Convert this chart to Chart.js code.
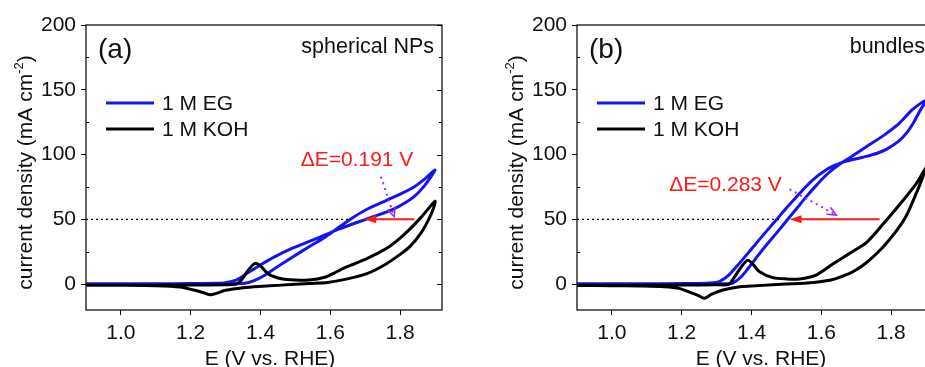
<!DOCTYPE html>
<html lang="en">
<head>
<meta charset="UTF-8" />
<title>CV curves - spherical NPs vs bundles</title>
<script src="https://cdn.jsdelivr.net/npm/chart.js"></script>
<style>
  html, body { margin: 0; padding: 0; background: #fff; overflow: hidden; width: 925px; height: 367px; }
  .panel { position: absolute; top: 0; width: 470px; height: 367px; }
  #wrapA { left: 0; }
  #wrapB { left: 491px; }
</style>
</head>
<body>
<div class="panel" id="wrapA"><canvas id="chartA" width="470" height="367"></canvas></div>
<div class="panel" id="wrapB"><canvas id="chartB" width="470" height="367"></canvas></div>
<script>
// ---- data: [E (V vs RHE), j (mA cm-2)] ----
const egSpherical = [
  [0.90,0.2],[1.00,0.2],[1.10,0.3],[1.20,0.4],[1.27,0.6],[1.30,1.0],[1.33,3],[1.36,8],[1.395,14],
  [1.44,21],[1.49,27.5],[1.54,33],[1.59,38.5],[1.62,42],[1.66,46],[1.70,49.8],[1.76,55.5],
  [1.80,60.5],[1.84,67.5],[1.87,76],[1.90,88],
  [1.87,81],[1.84,75],[1.80,69.5],[1.76,64.5],[1.70,57],[1.66,50.5],[1.62,43],[1.587,36.6],
  [1.539,28.8],[1.49,20.5],[1.443,12.5],[1.41,6.5],[1.38,2.5],[1.355,0.6],[1.30,0.2],[1.20,0.1],
  [1.00,0],[0.90,0]
];
const kohSpherical = [
  [0.90,-0.8],[1.00,-0.8],[1.10,-0.8],[1.20,-0.7],[1.30,-0.5],[1.33,0],[1.345,3],[1.36,9],[1.375,14],
  [1.386,16],[1.40,14],[1.424,7.5],[1.463,4],[1.50,3.2],[1.539,3.1],[1.587,5.5],[1.611,8.5],[1.64,12.5],
  [1.668,15.5],[1.70,19],[1.726,22.5],[1.764,28],[1.80,35.5],[1.83,43],[1.86,51.5],[1.90,64],
  [1.895,58],[1.88,49],[1.86,39.5],[1.83,29.5],[1.803,23.5],[1.755,14.7],[1.707,8.3],[1.649,4],
  [1.592,1.3],[1.539,0.5],[1.46,-0.8],[1.395,-1.8],[1.35,-2.8],[1.30,-4.8],[1.275,-7],[1.257,-8.3],
  [1.235,-6.5],[1.209,-4.6],[1.17,-2.2],[1.10,-1.2],[1.00,-0.9],[0.90,-0.8]
];
const egBundles = [
  [0.90,0.2],[1.00,0.2],[1.10,0.3],[1.20,0.4],[1.27,0.6],[1.29,1],[1.308,2],[1.335,7],[1.365,16],
  [1.395,25.5],[1.423,34.5],[1.45,43],[1.475,50.8],[1.50,58.7],[1.528,67],[1.555,75],[1.585,82.5],
  [1.61,87.5],[1.633,91],[1.66,94],[1.70,96.8],[1.729,98.6],[1.76,101],[1.786,104],[1.82,110],
  [1.844,116.5],[1.865,125],[1.882,133.5],[1.90,142],
  [1.86,134.5],[1.824,124.2],[1.78,115],[1.729,106],[1.69,99],[1.65,92],[1.614,84.2],[1.585,76],
  [1.557,67.5],[1.53,58.5],[1.504,50],[1.475,40.5],[1.442,30],[1.42,22.5],[1.394,13.4],[1.37,5.5],
  [1.346,0.8],[1.33,0.3],[1.30,0.2],[1.20,0.1],[1.00,0],[0.90,0]
];
const kohBundles = [
  [0.90,-0.8],[1.00,-0.8],[1.10,-0.8],[1.20,-0.7],[1.30,-0.5],[1.335,-0.2],[1.35,5],[1.37,13],
  [1.389,18.5],[1.405,15],[1.423,9.5],[1.461,5],[1.50,4],[1.537,4],[1.585,7],[1.633,15.5],[1.681,23.7],
  [1.729,32],[1.776,46],[1.834,64.5],[1.872,77.5],[1.90,90],
  [1.89,82],[1.875,72],[1.844,53],[1.815,41],[1.786,31.4],[1.76,24],[1.729,16.5],[1.70,11],
  [1.681,8.3],[1.633,3.6],[1.585,1.5],[1.537,0.5],[1.461,-0.5],[1.40,-1.5],[1.366,-2],[1.318,-4.6],
  [1.285,-8],[1.265,-11],[1.245,-8.5],[1.232,-7.2],[1.193,-3.3],[1.15,-2],[1.078,-1.5],[1.00,-1.2],
  [0.90,-1.0]
];

const seriesLabels = ['1 M EG', '1 M KOH'];
const xTicks = [1.0, 1.2, 1.4, 1.6, 1.8];
const yTicks = [0, 50, 100, 150, 200];
const yMinor = [25, 75, 125, 175];

// annotations (data units)
const refCurrent = 50;
const refLineA = [0.9, 1.659];
const shiftArrowA = [1.841, 1.697];
const hintArrowA = [[1.745, 82.9], [1.783, 52]];
const deltaLabelA = { text: '\u0394E=0.191 V', at: [1.515, 95.8] };
const refLineB = [0.9, 1.481];
const shiftArrowB = [1.767, 1.509];
const hintArrowB = [[1.509, 73.2], [1.643, 53.3]];
const deltaLabelB = { text: '\u0394E=0.283 V', at: [1.164, 76.5] };

const fontFam = '"Liberation Sans", Arial, Helvetica, sans-serif';
const blue = '#1414f0';
const red = '#ff1a1a';
const violet = '#9b2cf5';

function toXY(arr) { return arr.map(p => ({ x: p[0], y: p[1] })); }

function drawArrowHead(ctx, x1, y1, x2, y2, len, half, filled) {
  const ang = Math.atan2(y2 - y1, x2 - x1);
  const bx = x2 - len * Math.cos(ang), by = y2 - len * Math.sin(ang);
  const px = -Math.sin(ang) * half, py = Math.cos(ang) * half;
  ctx.beginPath();
  ctx.moveTo(bx + px, by + py);
  ctx.lineTo(x2, y2);
  ctx.lineTo(bx - px, by - py);
  if (filled) { ctx.closePath(); ctx.fill(); } else { ctx.stroke(); }
}

const deco = {
  id: 'deco',
  afterDatasetsDraw(chart, args, opts) {
    const { ctx, chartArea: a, scales: { x, y } } = chart;
    ctx.save();
    ctx.setLineDash([]);

    // frame + extra ticks
    ctx.strokeStyle = '#000';
    ctx.lineWidth = 1.2;
    ctx.strokeRect(a.left, a.top, a.right - a.left, a.bottom - a.top);
    ctx.lineWidth = 1;
    ctx.beginPath();
    yTicks.forEach(v => {
      const py = Math.round(y.getPixelForValue(v)) + 0.5;
      ctx.moveTo(a.right, py); ctx.lineTo(a.right - 5, py);
    });
    yMinor.forEach(v => {
      const py = Math.round(y.getPixelForValue(v)) + 0.5;
      ctx.moveTo(a.left, py); ctx.lineTo(a.left + 3, py);
      ctx.moveTo(a.right, py); ctx.lineTo(a.right - 3, py);
    });
    ctx.stroke();

    // dotted reference line at 50 mA cm-2
    const yRef = y.getPixelForValue(refCurrent);
    ctx.setLineDash([2, 3]);
    ctx.lineWidth = 1.3;
    ctx.strokeStyle = '#000';
    ctx.beginPath();
    ctx.moveTo(x.getPixelForValue(opts.refLine[0]), yRef);
    ctx.lineTo(x.getPixelForValue(opts.refLine[1]), yRef);
    ctx.stroke();

    // red shift arrow
    ctx.setLineDash([]);
    ctx.strokeStyle = red; ctx.fillStyle = red; ctx.lineWidth = 2;
    const ax1 = x.getPixelForValue(opts.shift[0]), ax2 = x.getPixelForValue(opts.shift[1]);
    ctx.beginPath(); ctx.moveTo(ax1, yRef); ctx.lineTo(ax2 + 6, yRef); ctx.stroke();
    drawArrowHead(ctx, ax1, yRef, ax2, yRef, 12, 4, true);

    // violet dotted pointer
    const h0 = opts.hint[0], h1 = opts.hint[1];
    const hx1 = x.getPixelForValue(h0[0]), hy1 = y.getPixelForValue(h0[1]);
    const hx2 = x.getPixelForValue(h1[0]), hy2 = y.getPixelForValue(h1[1]);
    ctx.strokeStyle = violet; ctx.fillStyle = violet; ctx.lineWidth = 2;
    ctx.setLineDash([2, 4]);
    ctx.beginPath(); ctx.moveTo(hx1, hy1); ctx.lineTo(hx2, hy2); ctx.stroke();
    ctx.setLineDash([]);
    ctx.lineWidth = 1.5;
    drawArrowHead(ctx, hx1, hy1, hx2, hy2, 9, 4, false);

    // delta E label
    ctx.fillStyle = red;
    ctx.font = '21px ' + fontFam;
    ctx.textAlign = 'left'; ctx.textBaseline = 'middle';
    ctx.fillText(opts.delta.text, x.getPixelForValue(opts.delta.at[0]), y.getPixelForValue(opts.delta.at[1]));

    // panel letter and sample name
    ctx.fillStyle = '#111';
    ctx.font = '28px ' + fontFam;
    ctx.fillText(opts.letter, a.left + 12, a.top + 25);
    ctx.font = '21.5px ' + fontFam;
    ctx.textAlign = 'right';
    ctx.fillText(opts.sample, a.right - 8, a.top + 22);

    // legend
    ctx.textAlign = 'left';
    ctx.font = '21px ' + fontFam;
    chart.data.datasets.forEach((ds, i) => {
      const ly = a.top + 78 + i * 26;
      ctx.strokeStyle = ds.borderColor; ctx.lineWidth = 3;
      ctx.beginPath(); ctx.moveTo(a.left + 20, ly); ctx.lineTo(a.left + 68, ly); ctx.stroke();
      ctx.fillStyle = '#111';
      ctx.fillText(ds.label, a.left + 76, ly + 1);
    });

    // axis titles
    ctx.fillStyle = '#111';
    ctx.font = '21px ' + fontFam;
    ctx.textAlign = 'center'; ctx.textBaseline = 'alphabetic';
    ctx.fillText('E (V vs. RHE)', (a.left + a.right) / 2 + 6, 365);

    ctx.translate(26.7, 172.5);
    ctx.rotate(-Math.PI / 2);
    const t1 = 'current density (mA cm', t2 = '-2', t3 = ')';
    ctx.font = '21px ' + fontFam;
    const w1 = ctx.measureText(t1).width, w3 = ctx.measureText(t3).width;
    ctx.font = '13px ' + fontFam;
    const w2 = ctx.measureText(t2).width;
    let sx = -(w1 + w2 + w3) / 2;
    ctx.textAlign = 'left';
    ctx.font = '21px ' + fontFam;
    ctx.fillText(t1, sx, 5.5);
    ctx.font = '13px ' + fontFam;
    ctx.fillText(t2, sx + w1, -3.5);
    ctx.font = '21px ' + fontFam;
    ctx.fillText(t3, sx + w1 + w2, 5.5);
    ctx.restore();
  }
};

function makeChart(id, eg, koh, deco_opts) {
  return new Chart(document.getElementById(id).getContext('2d'), {
    type: 'scatter',
    data: {
      datasets: [
        { label: seriesLabels[0], data: toXY(eg), borderColor: blue, borderWidth: 3,
          showLine: true, pointRadius: 0, tension: 0.25, order: 1 },
        { label: seriesLabels[1], data: toXY(koh), borderColor: '#000', borderWidth: 3,
          showLine: true, pointRadius: 0, tension: 0.25, order: 0 }
      ]
    },
    options: {
      responsive: false,
      animation: false,
      devicePixelRatio: 1,
      layout: { padding: { top: 25, right: 28, left: 0, bottom: 0 } },
      plugins: { legend: { display: false }, tooltip: { enabled: false }, deco: deco_opts },
      scales: {
        x: {
          type: 'linear', min: 0.9, max: 1.92,
          afterBuildTicks: s => { s.ticks = xTicks.map(v => ({ value: v })); },
          afterFit: s => { s.height = 57; },
          ticks: { font: { family: fontFam, size: 21 }, color: '#111', padding: 6,
                   maxRotation: 0, autoSkip: false, callback: v => Number(v).toFixed(1) },
          grid: { drawOnChartArea: false, drawTicks: true, tickLength: 5, color: '#000' },
          border: { display: false }
        },
        y: {
          type: 'linear', min: -20, max: 200,
          afterBuildTicks: s => { s.ticks = yTicks.map(v => ({ value: v })); },
          afterFit: s => { s.width = 86; },
          ticks: { font: { family: fontFam, size: 21 }, color: '#111', padding: 5,
                   callback: v => String(v) },
          grid: { drawOnChartArea: false, drawTicks: true, tickLength: 5, color: '#000' },
          border: { display: false }
        }
      }
    },
    plugins: [deco]
  });
}

makeChart('chartA', egSpherical, kohSpherical, {
  refLine: refLineA, shift: shiftArrowA, hint: hintArrowA, delta: deltaLabelA,
  letter: '(a)', sample: 'spherical NPs'
});
makeChart('chartB', egBundles, kohBundles, {
  refLine: refLineB, shift: shiftArrowB, hint: hintArrowB, delta: deltaLabelB,
  letter: '(b)', sample: 'bundles'
});
</script>
</body>
</html>
